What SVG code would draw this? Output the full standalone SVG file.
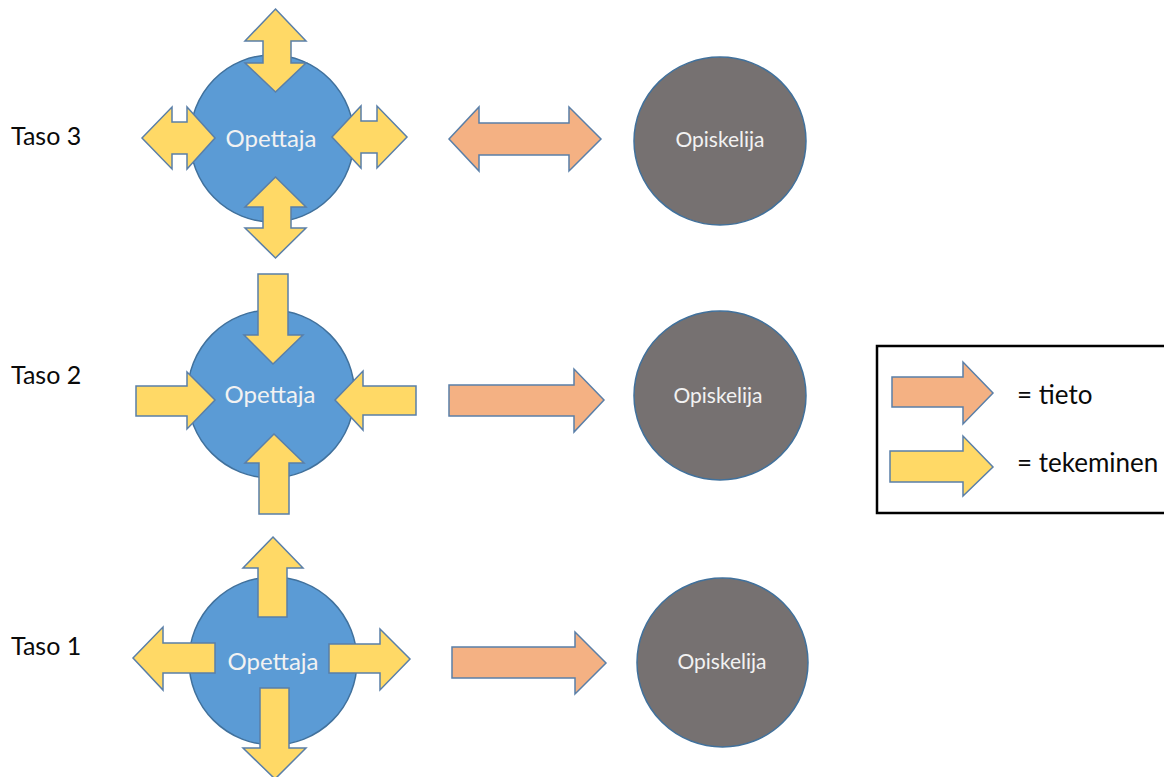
<svg xmlns="http://www.w3.org/2000/svg" width="1164" height="777" viewBox="0 0 1164 777">
  <style>
    .teacher { fill: #5B9BD5; stroke: #41719C; stroke-width: 1.5; }
    .student { fill: #767171; stroke: #41719C; stroke-width: 1.5; }
    .doing { fill: #FFD966; stroke: #5A7FA8; stroke-width: 1.5; stroke-linejoin: miter; }
    .info { fill: #F4B183; stroke: #5A7FA8; stroke-width: 1.5; stroke-linejoin: miter; }
    .label { font-family: Lato, "Liberation Sans", sans-serif; font-size: 25px; fill: #0A0A0A; }
    .inner { font-family: Lato, "Open Sans", sans-serif; fill: #F2F2F2; text-anchor: middle; }
    .legend-text { font-family: Lato, "Liberation Sans", sans-serif; font-size: 26px; fill: #0A0A0A; }
  </style>
  <rect width="1164" height="777" fill="#FFFFFF"/>

  <!-- row labels -->
  <g id="labels">
    <text class="label" x="11" y="145">Taso 3</text>
    <text class="label" x="11" y="384">Taso 2</text>
    <text class="label" x="11" y="655">Taso 1</text>
  </g>

  <!-- level 3 -->
  <g id="opettaja3">
    <ellipse class="teacher" cx="272" cy="138.5" rx="82" ry="83.5"/>
    <text class="inner" x="271" y="147" font-size="24">Opettaja</text>
  </g>
  <g id="opiskelija3">
    <ellipse class="student" cx="720" cy="141" rx="86" ry="84"/>
    <text class="inner" x="720" y="147" font-size="21">Opiskelija</text>
  </g>

  <!-- level 2 -->
  <g id="opettaja2">
    <ellipse class="teacher" cx="271" cy="394" rx="83.5" ry="84"/>
    <text class="inner" x="270" y="403" font-size="24">Opettaja</text>
  </g>
  <g id="opiskelija2">
    <ellipse class="student" cx="720" cy="395.5" rx="86" ry="84.5"/>
    <text class="inner" x="718" y="403" font-size="21">Opiskelija</text>
  </g>

  <!-- level 1 -->
  <g id="opettaja1">
    <ellipse class="teacher" cx="273" cy="661" rx="84" ry="84"/>
    <text class="inner" x="273" y="670" font-size="24">Opettaja</text>
  </g>
  <g id="opiskelija1">
    <ellipse class="student" cx="722.5" cy="662.5" rx="85.5" ry="84.5"/>
    <text class="inner" x="722" y="669" font-size="21">Opiskelija</text>
  </g>

  <!-- block arrows -->
  <g id="connectors">
    <!-- level 3: double-headed -->
    <path class="doing" d="M275.5,9 L306,41 L291,41 L291,63 L306,63 L275.5,92 L245,63 L263,63 L263,41 L245,41 Z"/>
    <path class="doing" d="M275.5,177 L306,207 L291,207 L291,228 L306,228 L275.5,258 L245,228 L263,228 L263,207 L245,207 Z"/>
    <path class="doing" d="M142,138 L172,107 L172,122 L187,122 L187,107 L215,138 L187,169 L187,154 L172,154 L172,169 Z"/>
    <path class="doing" d="M332,137 L361,106 L361,121 L377,121 L377,106 L407,137 L377,168 L377,153 L361,153 L361,168 Z"/>
    <path class="info" d="M449,139 L479,107 L479,123 L569,123 L569,107 L601,139 L569,171 L569,155 L479,155 L479,171 Z"/>

    <!-- level 2: pointing inward -->
    <path class="doing" d="M258,274 L288,274 L288,335 L303,335 L273,364 L244,335 L258,335 Z"/>
    <path class="doing" d="M136,386 L187,386 L187,372 L215,400 L187,429 L187,416 L136,416 Z"/>
    <path class="doing" d="M335,400 L363,371 L363,386 L416,386 L416,415 L363,415 L363,430 Z"/>
    <path class="doing" d="M274,434 L304,463 L289,463 L289,514 L259,514 L259,463 L245,463 Z"/>
    <path class="info" d="M449,385 L574,385 L574,369 L604,400 L574,432 L574,416 L449,416 Z"/>

    <!-- level 1: pointing outward -->
    <path class="doing" d="M273,537 L303,568 L287,568 L287,617 L258,617 L258,568 L243,568 Z"/>
    <path class="doing" d="M133,658 L163,627 L163,643 L215,643 L215,673 L163,673 L163,690 Z"/>
    <path class="doing" d="M329,644 L380,644 L380,629 L410,659 L380,690 L380,673 L329,673 Z"/>
    <path class="doing" d="M260,688 L289,688 L289,748 L306,748 L275,779 L243,748 L260,748 Z"/>
    <path class="info" d="M452,647 L575,647 L575,632 L606,663 L575,694 L575,678 L452,678 Z"/>
  </g>

  <!-- legend -->
  <g id="legend">
    <rect x="877" y="346" width="300" height="167" fill="#FFFFFF" stroke="#000000" stroke-width="2.5"/>
    <path class="info" d="M892,377 L963,377 L963,362 L993,393 L963,424 L963,407 L892,407 Z"/>
    <path class="doing" d="M890,451 L963,451 L963,436 L993,467 L963,496 L963,482 L890,482 Z"/>
    <text class="legend-text" x="1017" y="404">= tieto</text>
    <text class="legend-text" x="1017" y="472">= tekeminen</text>
  </g>
</svg>
